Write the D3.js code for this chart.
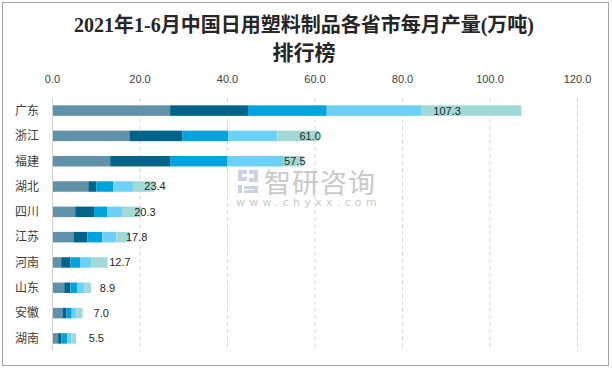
<!DOCTYPE html>
<html><head><meta charset="utf-8">
<script src="https://cdn.jsdelivr.net/npm/d3@7/dist/d3.min.js"></script>
<style>html,body{margin:0;padding:0;background:#fff;}svg{display:block;}</style>
</head><body>
<svg id="c" width="612" height="369"></svg>
<script>
const categories = ["广东","浙江","福建","湖北","四川","江苏","河南","山东","安徽","湖南"];
const seriesNames = ["1-2月","3月","4月","5月","6月"];
const s1 = [27.0,17.7,13.3,8.3,5.3,4.9,2.1,2.8,2.4,1.4];
const s2 = [17.8,12.1,13.7,1.8,4.3,3.2,2.1,1.4,0.9,0.7];
const s3 = [18.0,10.5,13.0,3.9,3.0,3.4,2.3,1.6,1.2,1.4];
const s4 = [21.7,11.2,13.0,4.5,3.4,3.2,2.5,1.6,1.1,0.9];
const s5 = [22.8,9.5,4.5,4.9,4.3,3.1,3.7,1.5,1.4,1.1];
const totals = [107.3,61.0,57.5,23.4,20.3,17.8,12.7,8.9,7.0,5.5];
const tickValues = [0,20,40,60,80,100,120];
const colors = ["#5f91a8","#006389","#00a3dd","#6dd0f7","#a1d9d6"];

const svg = d3.select("#c");
svg.append("rect").attr("x",2.5).attr("y",2.5).attr("width",606).attr("height",363)
  .attr("fill","#fff").attr("stroke","#a0a0a0").attr("stroke-width",1);

const titleFont = "'Liberation Serif','Noto Sans CJK SC',serif";
svg.append("text").attr("x",304).attr("y",32).attr("text-anchor","middle")
  .attr("font-family",titleFont).attr("font-size",20).attr("font-weight","bold").attr("fill","#262626")
  .text("2021年1-6月中国日用塑料制品各省市每月产量(万吨)");
svg.append("text").attr("x",304).attr("y",60).attr("text-anchor","middle")
  .attr("font-family",titleFont).attr("font-size",21).attr("font-weight","bold").attr("fill","#262626")
  .text("排行榜");

const x = d3.scaleLinear().domain([0,120]).range([52,577]);
const y = d3.scaleBand().domain(categories).range([98,351]).paddingInner(0.585).paddingOuter(0.29);

// gridlines
svg.append("g").selectAll("line").data(tickValues.filter(d=>d>0)).join("line")
  .attr("x1",d=>x(d)+0.5).attr("x2",d=>x(d)+0.5).attr("y1",98).attr("y2",351)
  .attr("stroke","#d9d9d9").attr("stroke-dasharray","4,3");

// top axis labels
const ax = svg.append("g").attr("transform","translate(0,86)")
  .call(d3.axisTop(x).tickValues(tickValues).tickFormat(d3.format(".1f")).tickSize(0));
ax.select(".domain").remove();
ax.selectAll("text").attr("font-family","'Liberation Sans',Arial,sans-serif").attr("font-size",11).attr("fill","#404040");

// stacked data
const rows = categories.map((c,i)=>({cat:c, v:[s1[i],s2[i],s3[i],s4[i],s5[i]]}));
const stack = d3.stack().keys([0,1,2,3,4]).value((d,k)=>d.v[k]);
const layers = stack(rows);
svg.append("g").selectAll("g").data(layers).join("g").attr("fill",(d,i)=>colors[i])
  .selectAll("rect").data(d=>d).join("rect")
  .attr("x",d=>x(d[0])).attr("width",d=>x(d[1])-x(d[0]))
  .attr("y",d=>y(d.data.cat)).attr("height",y.bandwidth());

// y axis line
svg.append("line").attr("x1",52.5).attr("x2",52.5).attr("y1",98).attr("y2",351).attr("stroke","#d0d0d0");

// category labels
svg.append("g").selectAll("text").data(categories).join("text")
  .attr("x",39).attr("y",d=>y(d)+y.bandwidth()/2).attr("dy","0.36em").attr("text-anchor","end")
  .attr("font-family","'Noto Sans CJK SC',sans-serif").attr("font-size",12).attr("fill","#404040").text(d=>d);

// watermark (drawn before total labels so labels stay on top)
const wm = svg.append("g").attr("opacity",0.9);
wm.append("path").attr("d","M238,170 h9 v4 h-5 v3 h5 v4 h-9 z M238,185 h4 v8 h-4 z").attr("fill","#c6cfe0");
wm.append("path").attr("d","M249,170 h9 v12 h-9 v-4 h5 v-4 h-5 z M244,186 h14 v7 h-14 v-3 h10 v-1 h-10 z").attr("fill","#c6cfe0");
wm.append("text").attr("x",264).attr("y",193).attr("font-family","'Noto Sans CJK SC',sans-serif").attr("font-size",27)
  .attr("fill","#c4c4c4").attr("letter-spacing",1).text("智研咨询");
wm.append("text").attr("x",236).attr("y",206).attr("font-family","'DejaVu Sans',sans-serif").attr("font-size",11)
  .attr("fill","#c4c4c4").attr("letter-spacing",4.3).text("www.chyxx.com");

// total labels
function labelCenter(t){
  if (t>100) return t-17;
  if (t>40) return t-2;
  return t + 6 - 0.25*t;
}
svg.append("g").selectAll("text").data(totals).join("text")
  .attr("x",d=>x(labelCenter(d))).attr("y",(d,i)=>y(categories[i])+y.bandwidth()/2).attr("dy","0.36em")
  .attr("text-anchor","middle").attr("font-family","'Liberation Sans',Arial,sans-serif").attr("font-size",11).attr("fill","#262626")
  .text(d=>d3.format(".1f")(d));
</script>
</body></html>
